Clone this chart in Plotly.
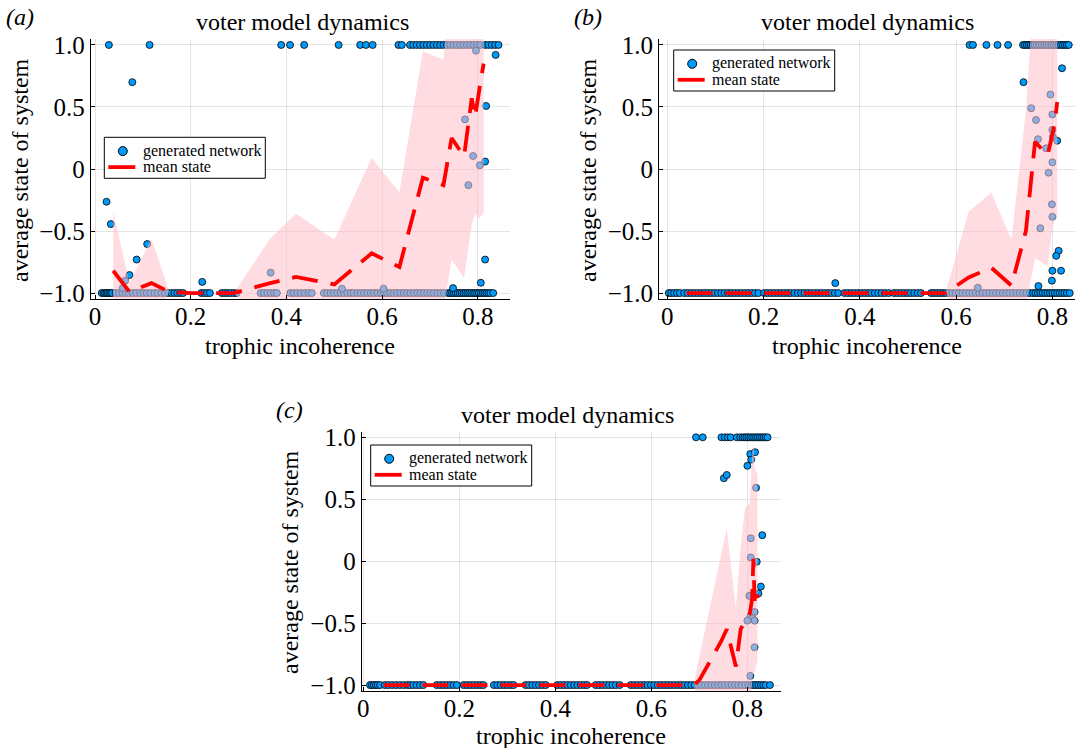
import plotly.graph_objects as go

FONT = "Liberation Serif"
BLUE = "#009AFA"
RIBBON = "rgba(255,192,203,0.55)"

# ---------------- panel (a) ----------------
a_top_x = [0.029, 0.114, 0.389, 0.4075, 0.437, 0.509, 0.554, 0.566, 0.580,
           0.634, 0.641, 0.658, 0.665, 0.672, 0.679, 0.686, 0.693, 0.700, 0.707,
           0.714, 0.721, 0.728, 0.735, 0.742, 0.749, 0.756, 0.763, 0.770, 0.777,
           0.784, 0.791, 0.798, 0.805, 0.815, 0.822, 0.829, 0.836, 0.843]
a_bottom_x = [0.014, 0.018, 0.021, 0.024, 0.027, 0.030, 0.033, 0.036,
              0.043, 0.050, 0.057, 0.064, 0.071, 0.079, 0.086, 0.094, 0.101, 0.108,
              0.116, 0.124, 0.131, 0.139, 0.146, 0.153,
              0.160, 0.166, 0.172, 0.178, 0.184,
              0.222, 0.228, 0.234, 0.240,
              0.265, 0.271, 0.277, 0.283, 0.290, 0.296,
              0.346, 0.353, 0.360, 0.367, 0.374, 0.380,
              0.408, 0.415, 0.422, 0.430, 0.438, 0.446, 0.453,
              0.478, 0.485, 0.492, 0.499, 0.506, 0.513, 0.520, 0.527, 0.534, 0.540,
              0.548, 0.555, 0.562, 0.569, 0.576, 0.583, 0.590, 0.597, 0.604, 0.610,
              0.617, 0.624, 0.631, 0.638, 0.645, 0.652, 0.659, 0.666, 0.673, 0.680,
              0.687, 0.694, 0.701, 0.708, 0.715, 0.722, 0.729,
              0.738, 0.742, 0.746, 0.750, 0.754, 0.758, 0.762, 0.766, 0.770, 0.774,
              0.778, 0.782, 0.786, 0.790, 0.794, 0.798, 0.802, 0.806, 0.810, 0.814,
              0.818, 0.822, 0.826, 0.832]
a_mid_x = [0.024, 0.033, 0.078, 0.058, 0.063, 0.072, 0.087, 0.109, 0.224, 0.367,
           0.516, 0.603, 0.748, 0.773, 0.780, 0.790, 0.796, 0.804, 0.815, 0.817,
           0.815, 0.806, 0.837]
a_mid_y = [-0.264, -0.444, 0.70, -0.96, -0.90, -0.855, -0.73, -0.605, -0.91, -0.836,
           -0.965, -0.965, -0.96, 0.40, -0.13, 0.105, 0.954, 0.03, 0.06, 0.508,
           -0.73, -0.917, 0.92]
a_line_x = [0.038, 0.072, 0.118, 0.155, 0.200, 0.245, 0.290, 0.366, 0.420, 0.500,
            0.578, 0.636, 0.685, 0.728, 0.745, 0.771, 0.787, 0.794, 0.801, 0.807, 0.812]
a_mean = [-0.82, -0.99, -0.92, -0.99, -1.0, -1.0, -1.0, -0.92, -0.87, -0.93,
          -0.68, -0.79, -0.07, -0.13, 0.25, 0.10, 0.57, 0.42, 0.62, 0.74, 0.85]
a_upper = [-0.34, -0.92, -0.56, -0.99, -1.0, -1.0, -1.0, -0.56, -0.36, -0.57,
           0.09, -0.19, 0.95, 0.88, 1.6, 1.6, 1.6, 1.6, 1.6, 1.6, 1.6]
a_lower = [-1.30, -1.06, -1.28, -0.99, -1.0, -1.0, -1.0, -1.28, -1.38, -1.29,
           -1.45, -1.39, -1.09, -1.14, -0.73, -0.88, -0.45, -0.36, -0.40, -0.38, -0.35]

# ---------------- panel (b) ----------------
b_top_x = [0.628, 0.635, 0.663, 0.686, 0.708,
           0.739, 0.743, 0.747, 0.751, 0.755, 0.759, 0.763, 0.768, 0.773, 0.778,
           0.783, 0.788, 0.793, 0.798, 0.803, 0.808, 0.813, 0.818, 0.822, 0.826,
           0.830, 0.834]
b_bottom_x = [0.003, 0.008, 0.014, 0.020, 0.026,
              0.035, 0.042, 0.049, 0.056, 0.063, 0.070, 0.077, 0.084, 0.091, 0.098,
              0.105, 0.112, 0.119, 0.126, 0.133, 0.140, 0.147, 0.154, 0.161, 0.168,
              0.175, 0.182, 0.189,
              0.201, 0.208, 0.215, 0.222, 0.229, 0.236, 0.243, 0.250, 0.256,
              0.264, 0.271, 0.278, 0.285, 0.292, 0.299, 0.306, 0.313, 0.320, 0.327,
              0.334, 0.341, 0.348, 0.355,
              0.368, 0.375, 0.382, 0.389, 0.396, 0.403, 0.410, 0.417, 0.424, 0.431,
              0.438, 0.445, 0.452, 0.460,
              0.471, 0.478, 0.485, 0.492, 0.499, 0.506, 0.513, 0.520, 0.527,
              0.548, 0.554, 0.560, 0.566, 0.572, 0.578, 0.585, 0.592, 0.599, 0.606,
              0.613, 0.620, 0.627, 0.634, 0.641, 0.648, 0.655, 0.662, 0.669, 0.676,
              0.683, 0.690, 0.697, 0.704, 0.711, 0.718, 0.725, 0.732, 0.739, 0.746,
              0.753, 0.760, 0.765, 0.770, 0.775, 0.780, 0.785, 0.790, 0.795, 0.800,
              0.805, 0.810, 0.815, 0.820, 0.825, 0.830, 0.836]
b_mid_x = [0.349, 0.645, 0.740, 0.766, 0.756, 0.770, 0.775, 0.771, 0.787, 0.792,
           0.796, 0.800, 0.800, 0.800, 0.801, 0.799, 0.800, 0.810, 0.820, 0.813,
           0.808, 0.800, 0.818, 0.799]
b_mid_y = [-0.92, -0.957, 0.70, 0.395, 0.49, 0.24, -0.478, -0.944, 0.167, -0.03,
           0.60, 0.44, 0.315, 0.054, 0.26, -0.285, -0.385, 0.228, 0.812, -0.66,
           -0.70, -0.82, -0.82, -0.90]
b_line_x = [0.040, 0.140, 0.240, 0.340, 0.440, 0.540, 0.578, 0.626, 0.673, 0.715,
            0.745, 0.764, 0.790, 0.800, 0.806, 0.810]
b_mean = [-1.0, -1.0, -1.0, -1.0, -1.0, -1.0, -1.0, -0.875, -0.795, -0.94,
          -0.50, 0.22, 0.11, 0.28, 0.40, 0.54]
b_upper = [-1.0, -1.0, -1.0, -1.0, -1.0, -1.0, -1.0, -0.344, -0.19, -0.57,
           0.47, 1.6, 1.6, 1.6, 1.6, 1.6]
b_lower = [-1.0, -1.0, -1.0, -1.0, -1.0, -1.0, -1.0, -1.40, -1.40, -1.30,
           -1.10, -0.72, -0.78, -0.47, -0.40, -0.40]

# ---------------- panel (c) ----------------
c_top_x = [0.693, 0.707, 0.746, 0.753, 0.759, 0.765,
           0.778, 0.785, 0.790, 0.794, 0.798, 0.802, 0.806, 0.810, 0.814, 0.818,
           0.822, 0.826, 0.830, 0.834, 0.838, 0.842]
c_bottom_x = [0.014, 0.018, 0.022, 0.026, 0.030, 0.035,
              0.045, 0.052, 0.060, 0.068, 0.076, 0.084, 0.092,
              0.097, 0.104, 0.111, 0.118, 0.125,
              0.153, 0.160, 0.167, 0.174, 0.181, 0.188, 0.195,
              0.209, 0.216, 0.223, 0.230, 0.237, 0.244, 0.250,
              0.272, 0.279, 0.286, 0.293, 0.300, 0.307, 0.313,
              0.338, 0.345, 0.352, 0.359, 0.366, 0.373, 0.380,
              0.404, 0.411, 0.418, 0.425, 0.432, 0.439, 0.446, 0.453, 0.460, 0.466,
              0.484, 0.491, 0.498, 0.505, 0.512, 0.519, 0.526, 0.534,
              0.557, 0.564, 0.571, 0.578, 0.585, 0.592, 0.599, 0.606, 0.613, 0.620,
              0.627, 0.634, 0.641, 0.648, 0.655, 0.662, 0.669, 0.676, 0.683, 0.690,
              0.697, 0.704, 0.711, 0.718, 0.725, 0.732, 0.739, 0.746, 0.753, 0.760,
              0.767, 0.774, 0.781, 0.788, 0.795, 0.802, 0.808, 0.813, 0.818, 0.823,
              0.828, 0.833, 0.838, 0.847]
c_mid_x = [0.751, 0.757, 0.800, 0.806, 0.808, 0.816, 0.818, 0.831, 0.807, 0.807,
           0.8195, 0.828, 0.823, 0.804, 0.815, 0.806, 0.811, 0.815, 0.800, 0.815, 0.806]
c_mid_y = [0.67, 0.696, 0.77, 0.865, 0.82, 0.88, 0.593, 0.21, 0.185, 0.03,
           -0.004, -0.205, -0.26, -0.28, -0.41, -0.45, -0.46, -0.48, -0.48, -0.695, -0.926]
c_line_x = [0.042, 0.120, 0.200, 0.300, 0.400, 0.500, 0.600, 0.688, 0.700, 0.745,
            0.757, 0.776, 0.786, 0.795, 0.805, 0.810, 0.8125, 0.815, 0.818, 0.821]
c_mean = [-1.0, -1.0, -1.0, -1.0, -1.0, -1.0, -1.0, -1.0, -0.96, -0.65,
          -0.55, -0.85, -0.55, -0.48, -0.42, -0.30, 0.02, -0.32, -0.22, -0.30]
c_upper = [-1.0, -1.0, -1.0, -1.0, -1.0, -1.0, -1.0, -1.0, -0.77, 0.05,
           0.265, -0.38, 0.11, 0.43, 0.47, 0.88, 0.95, 0.75, 0.72, 0.70]
c_lower = [-1.0, -1.0, -1.0, -1.0, -1.0, -1.0, -1.0, -1.0, -1.15, -1.35,
           -1.37, -1.32, -1.20, -1.40, -1.30, -0.95, -0.90, -0.90, -0.85, -0.80]

panels = [
    dict(top=a_top_x, bottom=a_bottom_x, mx=a_mid_x, my=a_mid_y, lx=a_line_x,
         mean=a_mean, up=a_upper, lo=a_lower, xa="x", ya="y"),
    dict(top=b_top_x, bottom=b_bottom_x, mx=b_mid_x, my=b_mid_y, lx=b_line_x,
         mean=b_mean, up=b_upper, lo=b_lower, xa="x2", ya="y2"),
    dict(top=c_top_x, bottom=c_bottom_x, mx=c_mid_x, my=c_mid_y, lx=c_line_x,
         mean=c_mean, up=c_upper, lo=c_lower, xa="x3", ya="y3"),
]

fig = go.Figure()
for p in panels:
    xs = p["bottom"] + p["top"] + p["mx"]
    ys = [-1.0] * len(p["bottom"]) + [1.0] * len(p["top"]) + p["my"]
    fig.add_trace(go.Scatter(
        x=xs, y=ys, mode="markers", name="generated network",
        marker=dict(color=BLUE, size=7, line=dict(color="black", width=0.8)),
        xaxis=p["xa"], yaxis=p["ya"], showlegend=False, cliponaxis=True))
    fig.add_trace(go.Scatter(
        x=p["lx"] + p["lx"][::-1], y=p["up"] + p["lo"][::-1],
        mode="lines", fill="toself", fillcolor=RIBBON, line=dict(width=0),
        hoverinfo="skip", showlegend=False, xaxis=p["xa"], yaxis=p["ya"]))
    fig.add_trace(go.Scatter(
        x=p["lx"], y=p["mean"], mode="lines", name="mean state",
        line=dict(color="red", width=3.8, dash="26px,13px"),
        xaxis=p["xa"], yaxis=p["ya"], showlegend=False))

W, H = 1076, 748

def dom_x(l, r):
    return [l / W, r / W]

def dom_y(t, b):
    return [1 - b / H, 1 - t / H]

xticks = dict(tickvals=[0, 0.2, 0.4, 0.6, 0.8], ticktext=["0", "0.2", "0.4", "0.6", "0.8"])
yticks = dict(tickvals=[-1, -0.5, 0, 0.5, 1], ticktext=["\u22121.0", "\u22120.5", "0", "0.5", "1.0"])
axis_common = dict(showline=True, linecolor="black", linewidth=1, mirror=False,
                   showgrid=True, gridcolor="rgba(0,0,0,0.10)", gridwidth=0.6,
                   zeroline=False, ticks="inside", ticklen=4, tickcolor="black",
                   automargin=False,
                   tickfont=dict(family=FONT, size=25, color="black"))

layout_axes = {}
specs = [
    ("xaxis", "yaxis", "y", "x", (90.7, 510), (39, 299), [-0.009, 0.867], [-1.048, 1.048]),
    ("xaxis2", "yaxis2", "y2", "x2", (659, 1075), (39, 299), [-0.0173, 0.847], [-1.048, 1.048]),
    ("xaxis3", "yaxis3", "y3", "x3", (361.7, 781), (432, 691), [-0.0033, 0.870], [-1.048, 1.043]),
]
for xk, yk, yanchor, xanchor, (l, r), (t, b), xr, yr in specs:
    layout_axes[xk] = dict(domain=dom_x(l, r), anchor=yanchor, range=xr, **xticks,
                           ticklabelstandoff=-5, **axis_common)
    layout_axes[yk] = dict(domain=dom_y(t, b), anchor=xanchor, range=yr, **yticks,
                           ticklabelstandoff=0, **axis_common)

def txt(x, y, s, size=24, italic=False, angle=0, xanchor="center"):
    return dict(x=x / W, y=1 - y / H, xref="paper", yref="paper", text=s, showarrow=False,
                font=dict(family=FONT, size=size, color="black",
                          style="italic" if italic else "normal"),
                textangle=angle, xanchor=xanchor, yanchor="middle")

annotations = [
    txt(302, 22, "voter model dynamics"),
    txt(867, 22, "voter model dynamics"),
    txt(567, 415, "voter model dynamics"),
    txt(300, 346, "trophic incoherence"),
    txt(867, 346, "trophic incoherence"),
    txt(571, 736, "trophic incoherence"),
    txt(20, 170, "average state of system", angle=-90),
    txt(588, 170, "average state of system", angle=-90),
    txt(290, 562, "average state of system", angle=-90),
    txt(20, 17, "(a)", italic=True),
    txt(588, 17, "(b)", italic=True),
    txt(289, 410, "(c)", italic=True),
]

# legend boxes (drawn as shapes + text), positions in pixels (left, top)
legend_boxes = [(104.3, 137.3), (673.7, 50.0), (370.7, 445.0)]
legend_labels = ["generated network", "mean state"]
shapes = []
for (lx, ty) in legend_boxes:
    shapes.append(dict(type="rect", xref="paper", yref="paper",
                       x0=lx / W, x1=(lx + 161) / W, y0=1 - (ty + 41) / H, y1=1 - ty / H,
                       fillcolor="white", line=dict(color="black", width=1), layer="above"))
    shapes.append(dict(type="circle", xref="paper", yref="paper",
                       xsizemode="pixel", ysizemode="pixel",
                       xanchor=(lx + 18.5) / W, yanchor=1 - (ty + 13.8) / H,
                       x0=-4.5, x1=4.5, y0=-4.5, y1=4.5,
                       fillcolor=BLUE, line=dict(color="black", width=1), layer="above"))
    shapes.append(dict(type="line", xref="paper", yref="paper",
                       x0=(lx + 4) / W, x1=(lx + 31) / W,
                       y0=1 - (ty + 29.8) / H, y1=1 - (ty + 29.8) / H,
                       line=dict(color="red", width=3.8), layer="above"))
    annotations.append(txt(lx + 36.5, ty + 13.3, legend_labels[0], size=16, xanchor="left"))
    annotations.append(txt(lx + 36.5, ty + 29.3, legend_labels[1], size=16, xanchor="left"))

fig.update_layout(
    width=W, height=H, margin=dict(l=0, r=0, t=0, b=0, autoexpand=False),
    paper_bgcolor="white", plot_bgcolor="white",
    font=dict(family=FONT, color="black"),
    showlegend=False,
    annotations=annotations,
    shapes=shapes,
    **layout_axes,
)

fig.write_html("out.html", config={"displayModeBar": False},
               post_script="document.body.style.margin='0px';")
